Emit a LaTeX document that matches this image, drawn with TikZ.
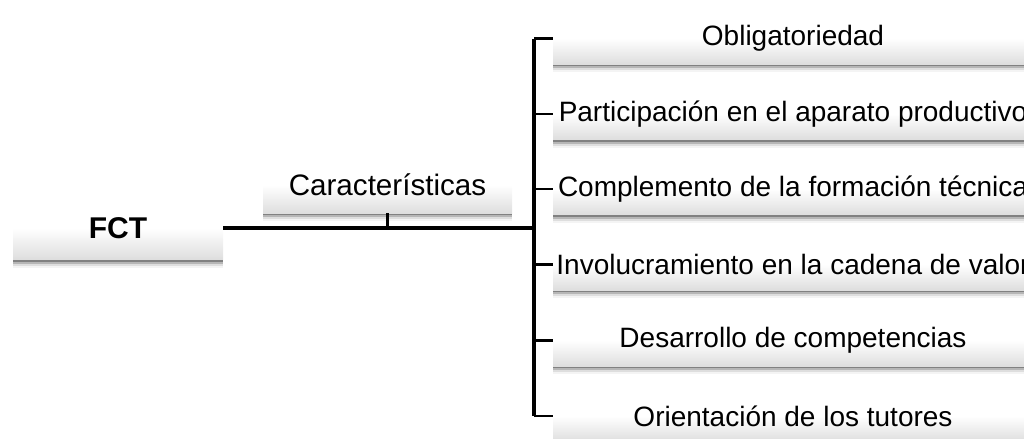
\documentclass[tikz,border=0pt]{standalone}
\usepackage{fontspec}
\setmainfont{Liberation Sans}
\usetikzlibrary{shadows}
\tikzset{
  box/.style={rectangle, inner sep=0pt, top color=white, bottom color=black!13, middle color=white,
    drop shadow={shadow xshift=0pt, shadow yshift=-1pt, opacity=0.45, fill=black!75},
    drop shadow={shadow xshift=0pt, shadow yshift=-2pt, opacity=0.25, fill=black!75},
    drop shadow={shadow xshift=0pt, shadow yshift=-3pt, opacity=0.12, fill=black!75},
    drop shadow={shadow xshift=0pt, shadow yshift=-4pt, opacity=0.06, fill=black!75},
    font=\fontsize{14}{16}\selectfont},
  itembox/.style={box, minimum width=240pt, minimum height=25.5pt},
  mainline/.style={line width=1.9pt, black},
  tickline/.style={line width=1.2pt, black}
}
\newcommand{\ctext}[1]{\makebox[0pt][c]{#1}}
\begin{document}
\begin{tikzpicture}[x=0.5pt, y=-0.5pt]
\useasboundingbox (0,0) rectangle (1024,439);
\node[box, minimum width=105pt, minimum height=31.5pt, font=\fontsize{15}{17}\selectfont\bfseries] (fct) at (118,228) {FCT};
\node[box, minimum width=124.5pt, minimum height=28pt, font=\fontsize{14.8}{17}\selectfont] (car) at (387.5,185) {Características};
\node[itembox] (b1) at (793,38.5) {\ctext{Obligatoriedad}};
\node[itembox] (b2) at (793,114) {\ctext{Participación en el aparato productivo}};
\node[itembox] (b3) at (793,189) {\ctext{Complemento de la formación técnica}};
\node[itembox] (b4) at (793,264.5) {\ctext{Involucramiento en la cadena de valor}};
\node[itembox] (b5) at (793,340.5) {\ctext{Desarrollo de competencias}};
\node[itembox] (b6) at (793,416) {\ctext{Orientación de los tutores}};
\coordinate (j) at (534,228);
\draw[mainline] (fct.east) -- (j);
\draw[tickline] (car.south) -- (car.south |- j);
\draw[mainline] (j |- b1.west) -- (j |- b6.west);
\foreach \b in {b1,b2,b3,b4,b5,b6}{
  \draw[tickline] (j |- \b.west) -- (\b.west);
}
\end{tikzpicture}
\end{document}
